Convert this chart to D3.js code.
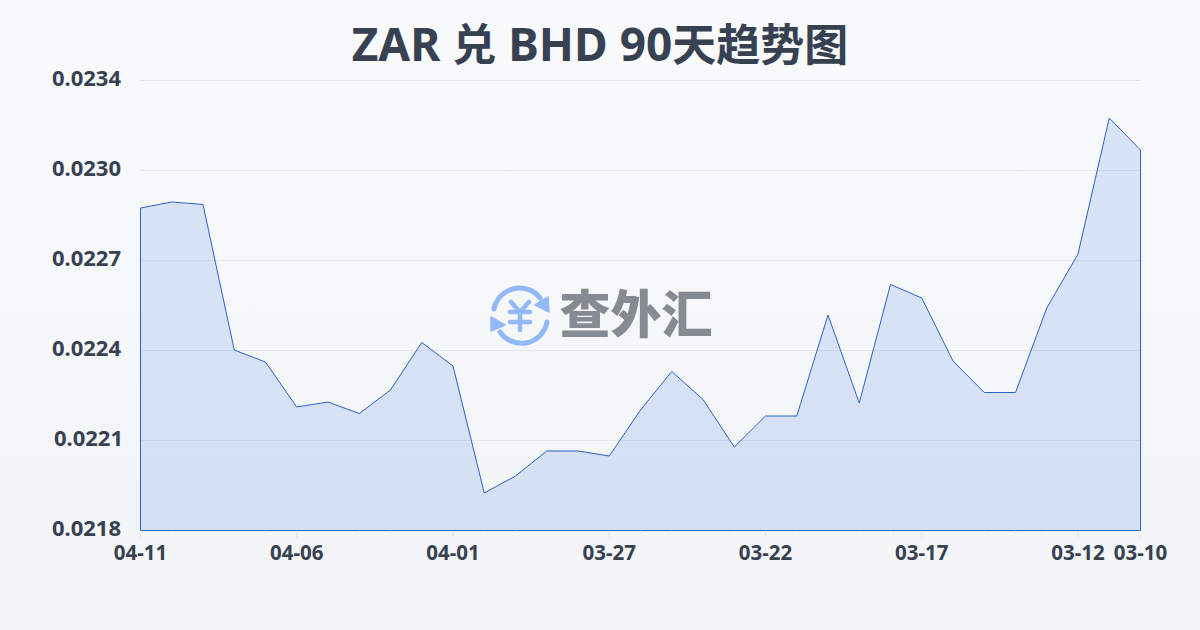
<!DOCTYPE html>
<html><head><meta charset="utf-8">
<script src="https://cdnjs.cloudflare.com/ajax/libs/d3/7.8.5/d3.min.js"></script>
<style>html,body{margin:0;padding:0;background:#f5f7fa}svg{display:block}</style>
</head><body><svg id="c" width="1200" height="630"></svg>
<script>
const dates=["04-11","04-10","04-09","04-08","04-07","04-06","04-05","04-04","04-03","04-02","04-01","03-31","03-30","03-29","03-28","03-27","03-26","03-25","03-24","03-23","03-22","03-21","03-20","03-19","03-18","03-17","03-16","03-15","03-14","03-13","03-12","03-11","03-10"];
const rates=[0.0229449,0.0229662,0.0229573,0.02244,0.0223973,0.0222373,0.0222551,0.0222142,0.0222978,0.0224667,0.0223831,0.0219316,0.021992,0.0220809,0.0220809,0.0220631,0.0222267,0.0223636,0.022264,0.0220951,0.0222053,0.0222053,0.0225644,0.0222516,0.0226729,0.0226249,0.0224009,0.0222889,0.0222889,0.0225893,0.0227813,0.0232649,0.0231511];
const xLabels=["04-11","04-06","04-01","03-27","03-22","03-17","03-12","03-10"];
const yLabels=["0.0218","0.0221","0.0224","0.0227","0.0230","0.0234"];
const titleParts=["ZAR ","兑"," BHD 90","天趋势图"];
const brand="查外汇";
const font="'Noto Sans','Noto Sans CJK SC',sans-serif";
const ink="#374151";

const svg=d3.select("#c");
const defs=svg.append("defs");
const bg=defs.append("linearGradient").attr("id","bg").attr("x1",0).attr("y1",0).attr("x2",0).attr("y2",1);
bg.append("stop").attr("offset",0).attr("stop-color","#f8fafc");
bg.append("stop").attr("offset",1).attr("stop-color","#f3f4f6");
svg.append("rect").attr("width",1200).attr("height",630).attr("fill","url(#bg)");

const x=d3.scalePoint().domain(dates).range([140.5,1140.5]);
const y=d3.scaleLinear().domain([0.0218,0.0234]).range([530,80]);
const yPos=i=>y(0.0218+i*0.00032);

yLabels.forEach((t,i)=>{
  if(i>0) svg.append("line").attr("x1",140).attr("x2",1141).attr("y1",yPos(i)+.5).attr("y2",yPos(i)+.5).attr("stroke","#e5e7eb").attr("stroke-width",1);
  svg.append("text").attr("x",t==="0.0221"?123:121).attr("y",yPos(i)+6).attr("text-anchor","end").attr("font-family",font).attr("font-weight",700).attr("font-size",22).attr("fill",ink).text(t);
});
const area=d3.area().x((d,i)=>x(dates[i])).y0(y(0.0218)+.5).y1(d=>y(d));
svg.append("path").datum(rates).attr("d",area).attr("fill","#2563eb").attr("fill-opacity",.14).attr("stroke","none");
svg.append("path").datum(rates).attr("d",area).attr("fill","none").attr("stroke","#2b62c8").attr("stroke-width",1);

xLabels.forEach(t=>{
  svg.append("line").attr("x1",x(t)).attr("x2",x(t)).attr("y1",531).attr("y2",538).attr("stroke","#e5e7eb");
  svg.append("text").attr("x",x(t)).attr("y",560).attr("text-anchor","middle").attr("font-family",font).attr("font-weight",700).attr("font-size",20.5).attr("fill",ink).text(t);
});
const tt=svg.append("text").attr("x",600).attr("y",61).attr("text-anchor","middle").attr("font-family",font).attr("font-weight",700).attr("fill",ink).attr("xml:space","preserve").style("white-space","pre");
titleParts.forEach((p,i)=>tt.append("tspan").attr("font-size",i%2?44:46).text(p));

// watermark
const blue="#93b8f8";
const g=svg.append("g").attr("fill","none").attr("stroke",blue).attr("stroke-width",5).attr("stroke-linecap","round");
g.append("path").attr("d","M494 309A26 26 0 0 1 540 298");
g.append("path").attr("d","M547 322A26 26 0 0 1 500 332");
g.append("path").attr("d","M548 297L549 312L535 305Z").attr("fill",blue).attr("stroke",blue).attr("stroke-width",1.5).attr("stroke-linejoin","round");
g.append("path").attr("d","M491 317L491 331L505 325Z").attr("fill",blue).attr("stroke",blue).attr("stroke-width",1.5).attr("stroke-linejoin","round");
g.append("path").attr("stroke-width",4.5).attr("d","M511 302L520 312L529 302M510 312H530M510 322H530M520 312V330");
svg.append("text").attr("x",636).attr("y",333).attr("text-anchor","middle").attr("font-family","'Noto Sans CJK SC'").attr("font-weight",900).attr("font-size",51).attr("fill","#858a93").text(brand);
</script></body></html>
